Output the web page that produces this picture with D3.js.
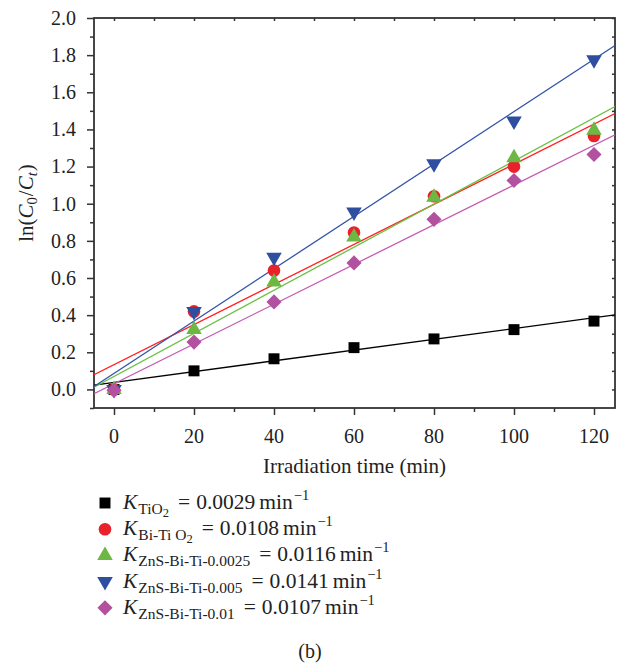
<!DOCTYPE html>
<html>
<head>
<meta charset="utf-8">
<script src="https://cdn.jsdelivr.net/npm/d3@7"></script>
<style>
  html, body { margin: 0; padding: 0; background: #fff; }
  svg { display: block; }
  text { font-family: "Liberation Serif", "DejaVu Serif", serif; fill: #222; }
</style>
</head>
<body>
<svg id="chart" width="625" height="664"></svg>
<script>
// Irradiation times (min)
const times = [0, 20, 40, 60, 80, 100, 120];

// ln(C0/Ct) for each catalyst
const tio2      = [0.00, 0.10, 0.165, 0.225, 0.272, 0.322, 0.368];
const biTio2    = [0.00, 0.42, 0.64, 0.845, 1.04, 1.20, 1.365];
const znsBi0025 = [0.00, 0.322, 0.578, 0.821, 1.035, 1.247, 1.396];
const znsBi005  = [0.00, 0.42, 0.712, 0.955, 1.215, 1.445, 1.775];
const znsBi001  = [-0.005, 0.255, 0.471, 0.681, 0.916, 1.125, 1.265];

// Rate constants (slopes of linear fits, min^-1) and fit intercepts
const rateK      = [0.0029, 0.0108, 0.0116, 0.0141, 0.0107];
const intercepts = [0.038, 0.133, 0.070, 0.086, 0.031];

// Legend subscript labels and rate texts
const subLabels = ["TiO2", "Bi-Ti O2", "ZnS-Bi-Ti-0.0025", "ZnS-Bi-Ti-0.005", "ZnS-Bi-Ti-0.01"];
const rateTexts = ["0.0029", "0.0108", "0.0116", "0.0141", "0.0107"];

const xTicks = [0, 20, 40, 60, 80, 100, 120];
const yTicks = [0.0, 0.2, 0.4, 0.6, 0.8, 1.0, 1.2, 1.4, 1.6, 1.8, 2.0];

const seriesValues = [tio2, biTio2, znsBi0025, znsBi005, znsBi001];
const markerColors = ["#000000", "#e8212a", "#6cb843", "#2e4e9f", "#b2519f"];
const lineColors   = ["#000000", "#ff1f1f", "#6cc046", "#3454aa", "#c45cb4"];
const shapes = ["square", "circle", "triangle", "down", "diamond"];

const svg = d3.select("#chart");
const plotL = 94, plotR = 615, plotT = 18, plotB = 408;

const x = d3.scaleLinear().domain([-5, 125.25]).range([plotL, plotR]);
const y = d3.scaleLinear().domain([-0.1, 2.0]).range([plotB, plotT]);

const axisColor = "#333";
const tickFont = 20;

svg.append("defs").append("clipPath").attr("id", "plotclip")
  .append("rect").attr("x", plotL).attr("y", plotT)
  .attr("width", plotR - plotL).attr("height", plotB - plotT);

// Bottom axis: major ticks labeled, minor ticks every 10
const bottomAxis = svg.append("g").attr("transform", `translate(0,${plotB})`);
bottomAxis.call(d3.axisBottom(x).tickValues(d3.range(0, 121, 10))
  .tickSize(4).tickFormat(""));
bottomAxis.select(".domain").remove();
bottomAxis.selectAll(".tick line")
  .attr("y2", d => (d % 20 === 0 ? 7 : 4))
  .attr("stroke", axisColor).attr("stroke-width", 1.5);
xTicks.forEach(v => {
  bottomAxis.append("text").attr("x", x(v)).attr("y", 35)
    .attr("text-anchor", "middle").attr("font-size", tickFont).text(v);
});

// Left axis: major every 0.2, minor every 0.1
const leftAxis = svg.append("g").attr("transform", `translate(${plotL},0)`);
leftAxis.call(d3.axisLeft(y).tickValues(d3.range(-1, 21).map(i => i / 10))
  .tickSize(4).tickFormat(""));
leftAxis.select(".domain").remove();
leftAxis.selectAll(".tick line")
  .attr("x2", d => (Math.round(d * 10) % 2 === 0 ? -7 : -4))
  .attr("stroke", axisColor).attr("stroke-width", 1.5);
yTicks.forEach(v => {
  leftAxis.append("text").attr("x", -18).attr("y", y(v)).attr("dy", "0.34em")
    .attr("text-anchor", "end").attr("font-size", tickFont).text(v.toFixed(1));
});

// Top axis: short inward ticks
const topAxis = svg.append("g").attr("transform", `translate(0,${plotT})`);
topAxis.call(d3.axisBottom(x).tickValues(d3.range(0, 121, 10)).tickSize(3).tickFormat(""));
topAxis.select(".domain").remove();
topAxis.selectAll(".tick line").attr("stroke", axisColor).attr("stroke-width", 1.5);

// Right axis: short inward ticks
const rightAxis = svg.append("g").attr("transform", `translate(${plotR},0)`);
rightAxis.call(d3.axisLeft(y).tickValues(d3.range(0, 21).map(i => i / 10)).tickSize(3).tickFormat(""));
rightAxis.select(".domain").remove();
rightAxis.selectAll(".tick line").attr("stroke", axisColor).attr("stroke-width", 1.5);

// Frame
svg.append("rect").attr("x", plotL).attr("y", plotT)
  .attr("width", plotR - plotL).attr("height", plotB - plotT)
  .attr("fill", "none").attr("stroke", axisColor).attr("stroke-width", 1.8);

// Linear fit lines
const plot = svg.append("g").attr("clip-path", "url(#plotclip)");
const [x0, x1] = x.domain();
rateK.forEach((k, i) => {
  const b = intercepts[i];
  plot.append("line")
    .attr("x1", x(x0)).attr("y1", y(b + k * x0))
    .attr("x2", x(x1)).attr("y2", y(b + k * x1))
    .attr("stroke", lineColors[i]).attr("stroke-width", 1.3);
});

// Marker shapes
function symbolPath(shape) {
  switch (shape) {
    case "square":   return d3.symbol(d3.symbolSquare, 120)();
    case "circle":   return d3.symbol(d3.symbolCircle, 125)();
    case "triangle": return d3.symbol(d3.symbolTriangle, 105)();
    case "down":     return d3.symbol(d3.symbolTriangle, 105)();
    case "diamond":  return d3.symbol(d3.symbolSquare, 115)();
  }
}
function symbolRotate(shape) {
  if (shape === "down") return " rotate(180)";
  if (shape === "diamond") return " rotate(45)";
  return "";
}

seriesValues.forEach((vals, i) => {
  const shape = shapes[i];
  plot.append("g").selectAll("path")
    .data(vals.map((v, j) => ({ t: times[j], v })))
    .join("path")
    .attr("d", symbolPath(shape))
    .attr("transform", d => `translate(${x(d.t)},${y(d.v)})${symbolRotate(shape)}`)
    .attr("fill", markerColors[i]);
});

// Axis titles
svg.append("text").attr("x", (plotL + plotR) / 2).attr("y", 473)
  .attr("text-anchor", "middle").attr("font-size", 21)
  .text("Irradiation time (min)");

const yTitle = svg.append("text")
  .attr("transform", "translate(33,203) rotate(-90)")
  .attr("text-anchor", "middle").attr("font-size", 21);
yTitle.append("tspan").text("ln(");
yTitle.append("tspan").attr("font-style", "italic").text("C");
yTitle.append("tspan").attr("font-size", 14.5).attr("dy", 4).text("0");
yTitle.append("tspan").attr("dy", -4).attr("dx", 1).text("/");
yTitle.append("tspan").attr("font-style", "italic").text("C");
yTitle.append("tspan").attr("font-size", 14.5).attr("font-style", "italic").attr("dy", 4).text("t");
yTitle.append("tspan").attr("dy", -4).attr("dx", 1).text(")");

// Legend
const legend = svg.append("g");
const rowStart = 509, rowGap = 26.2;
shapes.forEach((shape, i) => {
  const cy = rowStart + i * rowGap - 6;
  legend.append("path")
    .attr("d", symbolPath(shape))
    .attr("transform", `translate(105,${cy})${symbolRotate(shape)}`)
    .attr("fill", markerColors[i]);

  const t = legend.append("text").attr("x", 123).attr("y", rowStart + i * rowGap)
    .attr("font-size", 21.5);
  t.append("tspan").attr("font-style", "italic").text("K");
  const sub = subLabels[i];
  if (sub.endsWith("O2")) {
    t.append("tspan").attr("font-size", 15.5).attr("dy", 5).attr("dx", 1).text(sub.slice(0, -1));
    t.append("tspan").attr("font-size", 12.5).attr("dy", 3).text("2");
    t.append("tspan").attr("dy", -8).attr("dx", 9).text("=");
  } else {
    t.append("tspan").attr("font-size", 15.5).attr("dy", 5).attr("dx", 1).text(sub);
    t.append("tspan").attr("dy", -5).attr("dx", 9).text("=");
  }
  t.append("tspan").attr("dx", 6).text(rateTexts[i]);
  t.append("tspan").attr("dx", 4).text("min");
  t.append("tspan").attr("font-size", 14.5).attr("dy", -9).attr("dx", 1).text("\u22121");
});

// Panel label
svg.append("text").attr("x", 310).attr("y", 658).attr("text-anchor", "middle")
  .attr("font-size", 20).text("(b)");
</script>
</body>
</html>
